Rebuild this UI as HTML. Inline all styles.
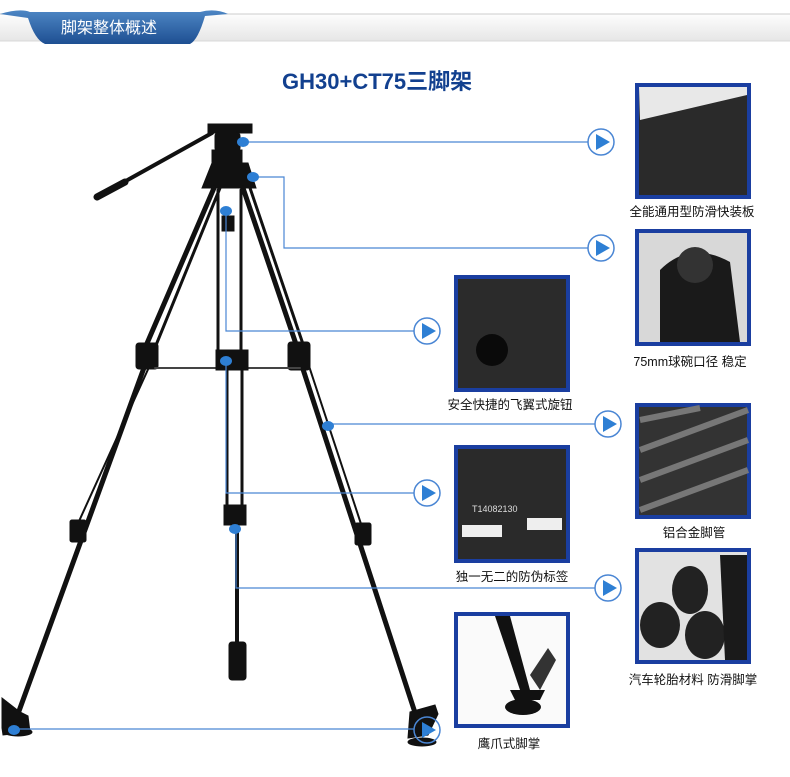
<!DOCTYPE html>
<html><head><meta charset="utf-8"><style>
body{margin:0;background:#fff}
svg{display:block}
text{font-family:"Liberation Sans","Noto Sans CJK SC",sans-serif}
</style></head><body>
<svg width="790" height="777" viewBox="0 0 790 777" xmlns="http://www.w3.org/2000/svg">
<defs>
<linearGradient id="hb" x1="0" y1="0" x2="0" y2="1"><stop offset="0" stop-color="#fdfdfd"/><stop offset="1" stop-color="#e6e6e6"/></linearGradient>
<linearGradient id="tab" x1="0" y1="0" x2="0" y2="1"><stop offset="0" stop-color="#4d86c4"/><stop offset="1" stop-color="#1e4f92"/></linearGradient>
</defs>
<rect x="0" y="14" width="790" height="27" fill="url(#hb)"/>
<line x1="0" y1="14" x2="790" y2="14" fill="none" stroke="#ccc"/>
<line x1="0" y1="41" x2="790" y2="41" stroke="#d8d8d8"/>
<path d="M0 14 Q20 8 30 12 L200 12 Q215 8 228 14 L205 16 Q198 40 190 44 L45 44 Q35 40 28 18 Z" fill="url(#tab)"/>
<text x="61" y="33" font-size="16" fill="#fff">脚架整体概述</text>
<text x="282" y="89" font-size="22" font-weight="bold" fill="#12408f">GH30+CT75三脚架</text>

<!-- tripod -->
<g stroke="#111" fill="#111" stroke-linecap="round">
<line x1="212" y1="133" x2="97" y2="197" stroke-width="4"/>
<line x1="125" y1="182" x2="97" y2="197" stroke-width="7"/>
<rect x="208" y="124" width="44" height="9"/>
<rect x="215" y="132" width="25" height="20" rx="4"/>
<rect x="212" y="150" width="30" height="12"/>
<path d="M202 188 L212 163 L248 163 L256 188 Z"/>
<line x1="214" y1="188" x2="142" y2="355" stroke-width="5"/>
<line x1="220" y1="188" x2="152" y2="355" stroke-width="3"/>
<line x1="145" y1="365" x2="15" y2="722" stroke-width="5"/>
<line x1="150" y1="365" x2="75" y2="530" stroke-width="2"/>
<line x1="243" y1="188" x2="298" y2="350" stroke-width="5"/>
<line x1="250" y1="188" x2="305" y2="350" stroke-width="3"/>
<line x1="300" y1="360" x2="420" y2="728" stroke-width="5"/>
<line x1="307" y1="360" x2="363" y2="530" stroke-width="2"/>
<rect x="136" y="343" width="22" height="26" rx="3"/>
<rect x="288" y="342" width="22" height="28" rx="3"/>
<line x1="155" y1="368" x2="300" y2="368" stroke-width="2" stroke="#444"/>
<line x1="218" y1="190" x2="218" y2="352" stroke-width="3"/>
<line x1="241" y1="190" x2="241" y2="352" stroke-width="3"/>
<rect x="216" y="350" width="32" height="20"/>
<rect x="222" y="216" width="12" height="15"/>
<line x1="227" y1="370" x2="227" y2="505" stroke-width="3"/>
<line x1="242" y1="370" x2="242" y2="505" stroke-width="3"/>
<rect x="224" y="505" width="22" height="20"/>
<line x1="237" y1="525" x2="237" y2="645" stroke-width="4"/>
<rect x="229" y="642" width="17" height="38" rx="3"/>
<rect x="70" y="520" width="16" height="22" rx="2"/>
<rect x="355" y="523" width="16" height="22" rx="2"/>
<path d="M2 698 L20 712 L28 716 L30 732 L3 735 L2 728 Z"/>
<ellipse cx="18" cy="732" rx="14" ry="4"/>
<path d="M410 712 L435 705 L438 714 L428 735 L408 738 Z"/>
<ellipse cx="422" cy="742" rx="14" ry="4"/>
</g>

<!-- connectors -->
<g stroke="#4a86d4" stroke-width="1.2" fill="none">
<line x1="243" y1="142" x2="588" y2="142"/>
<polyline points="253,177 284,177 284,248 588,248"/>
<polyline points="226,211 226,331 414,331"/>
<line x1="328" y1="424" x2="595" y2="424"/>
<polyline points="226,361 226,493 414,493"/>
<polyline points="236,529 236,588 595,588"/>
<line x1="14" y1="729" x2="414" y2="729"/>
</g>
<g fill="#2e7fd4">
<ellipse cx="243" cy="142" rx="6" ry="5"/><ellipse cx="253" cy="177" rx="6" ry="5"/>
<ellipse cx="226" cy="211" rx="6" ry="5"/><ellipse cx="226" cy="361" rx="6" ry="5"/>
<ellipse cx="328" cy="426" rx="6" ry="5"/><ellipse cx="235" cy="529" rx="6" ry="5"/>
<ellipse cx="14" cy="730" rx="6" ry="5"/>
</g>
<g>
<g transform="translate(601,142)"><circle r="13" fill="#fff" stroke="#4a86d4" stroke-width="1.5"/><path d="M-5 -8 L9 0 L-5 8 Z" fill="#2e7fd4"/></g>
<g transform="translate(601,248)"><circle r="13" fill="#fff" stroke="#4a86d4" stroke-width="1.5"/><path d="M-5 -8 L9 0 L-5 8 Z" fill="#2e7fd4"/></g>
<g transform="translate(427,331)"><circle r="13" fill="#fff" stroke="#4a86d4" stroke-width="1.5"/><path d="M-5 -8 L9 0 L-5 8 Z" fill="#2e7fd4"/></g>
<g transform="translate(608,424)"><circle r="13" fill="#fff" stroke="#4a86d4" stroke-width="1.5"/><path d="M-5 -8 L9 0 L-5 8 Z" fill="#2e7fd4"/></g>
<g transform="translate(427,493)"><circle r="13" fill="#fff" stroke="#4a86d4" stroke-width="1.5"/><path d="M-5 -8 L9 0 L-5 8 Z" fill="#2e7fd4"/></g>
<g transform="translate(608,588)"><circle r="13" fill="#fff" stroke="#4a86d4" stroke-width="1.5"/><path d="M-5 -8 L9 0 L-5 8 Z" fill="#2e7fd4"/></g>
<g transform="translate(427,730)"><circle r="13" fill="none" stroke="#4a86d4" stroke-width="1.5"/><path d="M-5 -8 L9 0 L-5 8 Z" fill="#2e7fd4"/></g>
</g>

<!-- thumbnails -->
<g stroke="#1a3ea0" stroke-width="4">
<rect x="637" y="85" width="112" height="112" fill="#2a2a2a"/>
<rect x="637" y="231" width="112" height="113" fill="#d8d8d8"/>
<rect x="456" y="277" width="112" height="113" fill="#2b2b2b"/>
<rect x="637" y="405" width="112" height="112" fill="#333"/>
<rect x="456" y="447" width="112" height="114" fill="#2a2a2a"/>
<rect x="637" y="550" width="112" height="112" fill="#e2e2e2"/>
<rect x="456" y="614" width="112" height="112" fill="#fafafa"/>
</g>
<g fill="#111">
<path d="M639 87 L747 87 L747 95 L640 120 Z" fill="#e8e8e8"/>
<path d="M660 270 Q690 240 730 262 L740 342 L660 342 Z" fill="#1a1a1a"/>
<circle cx="695" cy="265" r="18" fill="#333"/>
<circle cx="492" cy="350" r="16" fill="#0a0a0a"/>
<path d="M640 420 L700 408 M640 450 L748 410 M640 480 L748 440 M640 510 L748 470" stroke="#777" stroke-width="6"/>
<text x="472" y="512" font-size="9" fill="#ddd" stroke="none">T14082130</text>
<rect x="462" y="525" width="40" height="12" fill="#eee"/><rect x="527" y="518" width="35" height="12" fill="#eee"/>
<ellipse cx="690" cy="590" rx="18" ry="24" fill="#222"/>
<ellipse cx="660" cy="625" rx="20" ry="23" fill="#222"/>
<ellipse cx="705" cy="635" rx="20" ry="24" fill="#222"/>
<path d="M720 555 L747 555 L747 660 L725 660 Z" fill="#1a1a1a"/>
<path d="M495 616 L520 690 L530 690 L510 616 Z"/>
<ellipse cx="523" cy="707" rx="18" ry="8"/>
<path d="M510 690 L545 690 L540 700 L515 700 Z"/>
<path d="M530 675 L548 648 L556 660 L540 690 Z" fill="#333"/>
</g>
<g font-size="12.5" fill="#111" text-anchor="middle">
<text x="692" y="216">全能通用型防滑快装板</text>
<text x="690" y="366">75mm球碗口径  稳定</text>
<text x="510" y="409">安全快捷的飞翼式旋钮</text>
<text x="694" y="537">铝合金脚管</text>
<text x="512" y="581">独一无二的防伪标签</text>
<text x="693" y="684">汽车轮胎材料 防滑脚掌</text>
<text x="509" y="748">鹰爪式脚掌</text>
</g>
</svg>
</body></html>
